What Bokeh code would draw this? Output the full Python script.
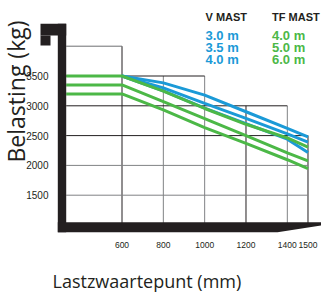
import math
from bokeh.plotting import figure
from bokeh.models import Range1d, FixedTicker, Label
from bokeh.core.properties import value
from bokeh.embed import file_html
from bokeh.resources import INLINE

# ---- data ----
load_centre_mm = [600, 800, 1000, 1200, 1400, 1500]
v_mast_names = ["3.0 m", "3.5 m", "4.0 m"]
v_mast_30_kg = [3500, 3385, 3180, 2900, 2620, 2480]
v_mast_35_kg = [3500, 3300, 3040, 2790, 2530, 2390]
v_mast_40_kg = [3500, 3250, 2960, 2700, 2440, 2215]

tf_load_centre_mm = [330, 600, 800, 1000, 1200, 1400, 1500]
tf_mast_names = ["4.0 m", "5.0 m", "6.0 m"]
tf_mast_40_kg = [3500, 3500, 3245, 2955, 2690, 2460, 2305]
tf_mast_50_kg = [3350, 3350, 3070, 2785, 2500, 2210, 2075]
tf_mast_60_kg = [3200, 3200, 2930, 2635, 2370, 2095, 1945]

x_ticks = [600, 800, 1000, 1200, 1400, 1500]
y_ticks = [1500, 2000, 2500, 3000, 3500]

# staircase grid
v_grid_x = [600, 800, 1000, 1200, 1400, 1500]
v_grid_top = [4000, 3500, 3500, 3000, 3000, 2500]
h_grid_y = [4000, 3500, 3000, 2500, 2000, 1500]
h_grid_end = [600, 1000, 1400, 1500, 1500, 1500]
grid_start_x = 330
grid_floor = 1000

BLUE = "#1b9ad7"
GREEN = "#4cb847"
INK = "#231f20"
GREY = "#808285"

# plot frame fills the whole canvas; axes draw their labels inside it
X0, X1 = 12.0, 1565.4
Y0, Y1 = -149.3, 4766.8

p = figure(width=321, height=293, x_range=Range1d(X0, X1), y_range=Range1d(Y0, Y1),
           output_backend="svg", toolbar_location=None,
           min_border_left=0, min_border_right=0, min_border_top=0, min_border_bottom=0)
p.outline_line_color = None
p.grid.visible = False
p.background_fill_color = "white"
p.border_fill_color = "white"

# grid staircase
v_cols = [INK, GREY, GREY, INK, GREY, INK]
p.segment(x0=v_grid_x, y0=[grid_floor] * len(v_grid_x), x1=v_grid_x, y1=v_grid_top,
          line_color=v_cols, line_width=1)
h_cols = ["#6d6e71", INK, INK, INK, GREY, GREY]
p.segment(x0=[grid_start_x] * len(h_grid_y), y0=h_grid_y, x1=h_grid_end, y1=h_grid_y,
          line_color=h_cols, line_width=1)

# curves
for ys in (v_mast_30_kg, v_mast_35_kg, v_mast_40_kg):
    p.line(load_centre_mm, ys, line_color=BLUE, line_width=3)
for ys in (tf_mast_40_kg, tf_mast_50_kg, tf_mast_60_kg):
    p.line(tf_load_centre_mm, ys, line_color=GREEN, line_width=3)

# thick black bracket frame
p.quad(left=[289.3, 205.6, 205.6], right=[grid_start_x, grid_start_x, 254.0],
       bottom=[879.2, 4179.5, 4011.7], top=[4376, 4376, 4179.5],
       fill_color=INK, line_color=None)
p.patch(x=[289.3, X1, X1, 1352.5, 289.3], y=[1047, 1047, 992, 879.2, 879.2],
        fill_color=INK, line_color=None)

# legend block
p.text(x=[1004, 1326], y=[4487, 4487], text=["V MAST", "TF MAST"],
       text_font=value("Liberation Sans"), text_font_style="bold", text_font_size="11px",
       text_color=INK, text_align="left", text_baseline="alphabetic")
rows_y = [4180, 3978, 3777]
p.text(x=[1004] * 3, y=rows_y, text=v_mast_names,
       text_font=value("Liberation Sans"), text_font_style="bold", text_font_size="13px",
       text_color=BLUE, text_align="left", text_baseline="alphabetic")
p.text(x=[1326] * 3, y=rows_y, text=tf_mast_names,
       text_font=value("Liberation Sans"), text_font_style="bold", text_font_size="13px",
       text_color=GREEN, text_align="left", text_baseline="alphabetic")

# axes (labels pulled inside the frame with negative standoffs)
xa = p.xaxis[0]
xa.ticker = FixedTicker(ticks=x_ticks)
xa.axis_line_color = None
xa.major_tick_line_color = None
xa.minor_tick_line_color = None
xa.major_label_standoff = -58
xa.major_label_text_font = "Liberation Sans"
xa.major_label_text_font_size = "8.5px"
xa.major_label_text_color = INK

ya = p.yaxis[0]
ya.ticker = FixedTicker(ticks=y_ticks)
ya.axis_line_color = None
ya.major_tick_line_color = None
ya.minor_tick_line_color = None
ya.major_label_standoff = -54
ya.major_label_text_font = "Liberation Sans"
ya.major_label_text_font_size = "10px"
ya.major_label_text_color = INK

# axis titles
p.add_layout(Label(x=263.7, y=68.7, text="Lastzwaartepunt (mm)",
                   text_font="Open Sans", text_font_size="18px", text_color=INK,
                   text_align="left", text_baseline="alphabetic"))
p.add_layout(Label(x=86.1, y=3239.9, text="Belasting (kg)", angle=math.pi / 2,
                   text_font="Open Sans", text_font_size="23px", text_color=INK,
                   text_align="center", text_baseline="middle"))

open("out.html", "w").write(file_html(p, INLINE))
